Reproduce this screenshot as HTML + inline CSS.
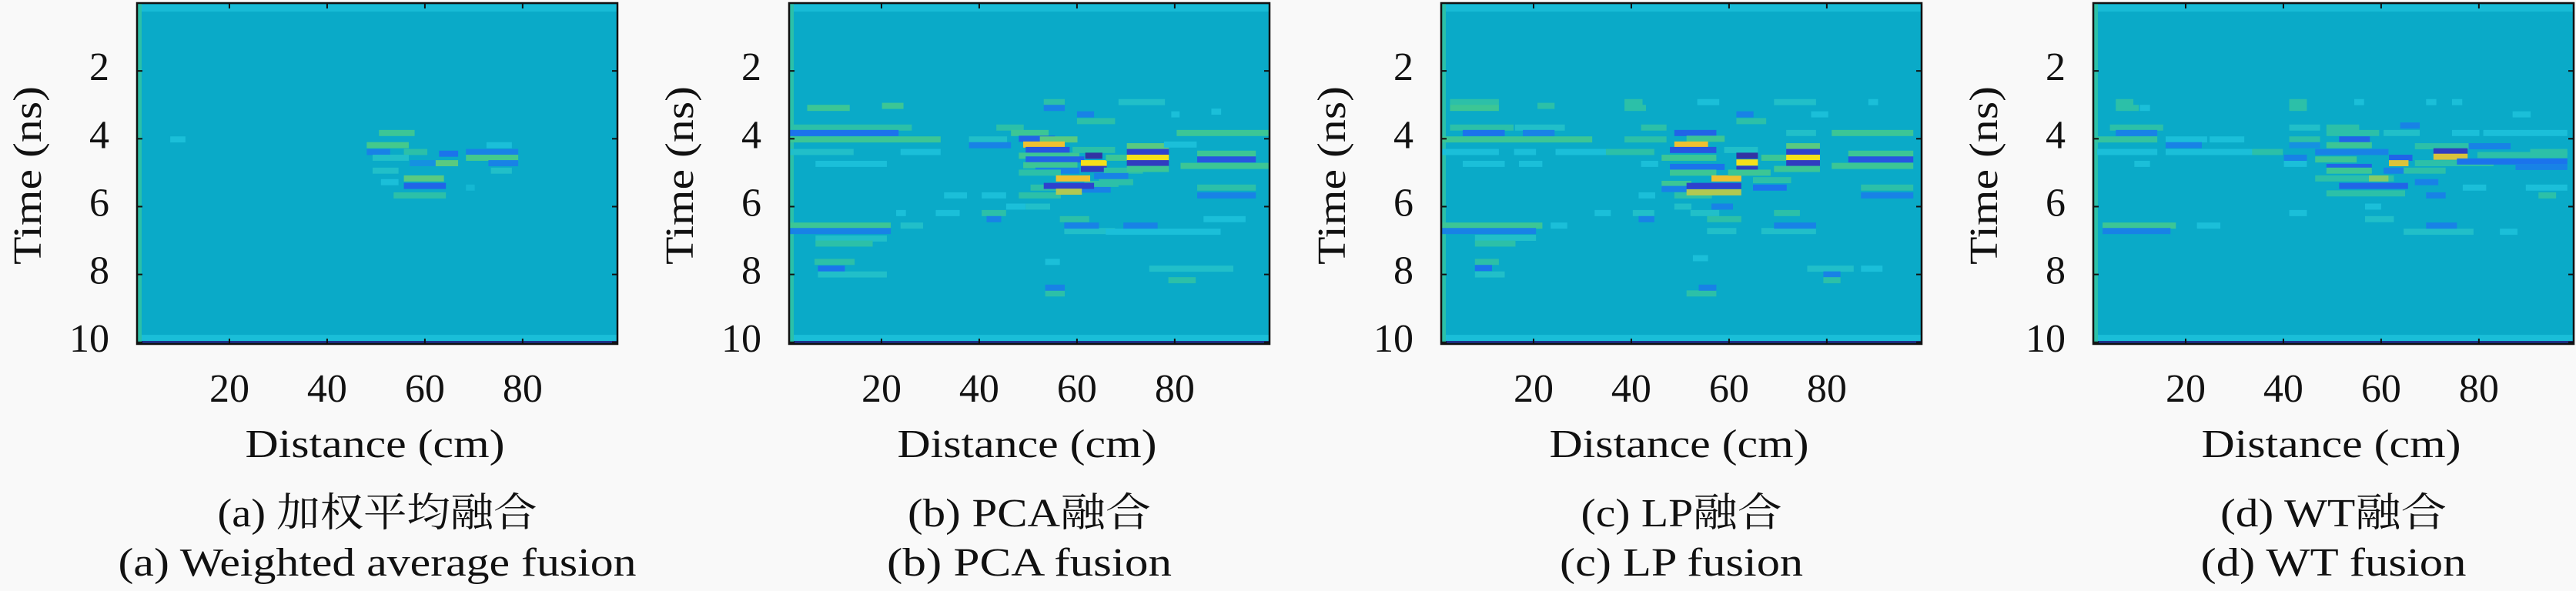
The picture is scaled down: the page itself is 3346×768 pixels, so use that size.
<!DOCTYPE html>
<html><head><meta charset="utf-8"><style>
html,body{margin:0;padding:0;background:#f9f9f9;}
svg{display:block;}
text{font-family:"Liberation Serif","Noto Serif CJK SC",serif;fill:#111;}
</style></head><body>
<svg id="fig" width="3346" height="768" viewBox="0 0 3346 768" xmlns="http://www.w3.org/2000/svg" font-family="'Liberation Serif','Noto Serif CJK SC',serif"></svg>
<script>
// ---- data ----
const xTicks = [20, 40, 60, 80];
const yTicks = [2, 4, 6, 8, 10];
const xDomain = [1.1, 99.4];
const yDomain = [0, 10.05];
const rowHeight = 0.18;
const captionsCn = ["(a) 加权平均融合", "(b) PCA融合", "(c) LP融合", "(d) WT融合"];
const captionsEn = ["(a) Weighted average fusion", "(b) PCA fusion", "(c) LP fusion", "(d) WT fusion"];
// segments: [distanceStart, distanceEnd, time, amplitude(-1..1)]
const segA = [[8.4,10.5,4.02,0.15],[51.1,57.4,3.83,0.4],[48.6,56.2,4.19,0.45],[56.2,60,4.39,0.3],[48.6,52.4,4.39,-0.3],[49.8,56.2,4.56,0.2],[63.4,66.3,4.44,-0.4],[62.5,66.3,4.72,0.5],[57.4,61.7,4.72,-0.2],[49.8,54.1,4.94,0.2],[56.2,63.4,5.17,0.5],[56.2,63.8,5.39,-0.5],[54.1,63.8,5.67,0.3],[51.5,54.1,5.28,0.15],[68.9,78.6,4.39,-0.3],[68.9,78.6,4.56,0.45],[73.1,77.3,4.19,0.15],[73.5,78.6,4.72,-0.3],[74,77.3,4.94,0.2],[68.9,69.7,5.44,0.1]];
const segB = [[5.3,13,3.09,0.4],[20.6,24,3.03,0.4],[1.5,25.7,3.67,0.3],[1.5,23,3.83,-0.4],[1.5,31.6,4.02,0.4],[1.5,13.8,4.39,0.2],[7,20.6,4.74,0.15],[24.4,31.6,4.39,0.15],[38.4,45.2,4.02,0.2],[38.4,46,4.19,-0.3],[44,48.6,3.67,0.3],
[47,53.7,3.83,0.4],[48.6,55,4.0,-0.5],[52.9,59.6,4.02,0.5],[49.5,57,4.17,0.85],[50,58,4.33,-0.6],[48.6,60,4.5,0.4],[50,61,4.61,-0.5],[49.5,59.6,4.78,0.4],[52,60,4.94,-0.3],[48.6,56.2,5.0,0.3],
[51,56.2,5.44,0.3],[48.6,56.2,5.67,0.3],[60,66.4,5.5,-0.3],[62,68,5.33,0.3],[56.2,62.2,5.17,0.85],[53.7,63,5.39,-0.75],[56.2,60.5,5.56,0.7],
[59.6,67.3,4.33,0.3],[62.2,64.7,4.5,-0.9],[61.3,65.6,4.72,0.95],[61.3,65.6,4.89,-0.8],[66,73,4.94,0.3],[64,70,5.1,-0.3],[65,71,5.28,0.3],
[66.4,71,4.56,0.4],[70.7,78.3,4.22,0.5],[70.7,78.3,4.39,-0.75],[70.7,78.3,4.56,0.95],[70.7,78.3,4.72,-0.8],[70.7,78.3,4.89,0.4],
[80.9,98.7,3.83,0.4],[85.1,96.1,4.44,0.4],[85.1,96.1,4.61,-0.6],[81.7,98.7,4.8,0.4],[85.1,96.1,5.44,0.3],[85.1,96.1,5.67,-0.3],[78.3,84,4.17,0.15],
[69,77.5,2.92,0.2],[53.7,57,2.92,0.3],[53.7,57,3.09,-0.3],[60.5,67.3,3.48,0.3],[60.5,63,3.28,-0.3],[79.8,80.5,3.28,0.15],[88,89,3.2,0.15],
[57.9,67.3,6.72,0.2],[66.4,88.9,6.74,0.15],[70,76,6.56,-0.3],[57.9,64,6.56,-0.3],[57,62,6.37,0.3],[1.5,21.4,6.56,0.4],[1.5,21.4,6.72,-0.3],[7,20.6,6.94,0.2],[7,17.7,7.09,0.3],[6.8,14,7.63,0.3],[7.5,12,7.83,-0.4],[7.5,20.6,8.0,0.2],[75.3,91.5,7.83,0.2],[79.2,83.8,8.17,0.3],[54,57,8.56,0.3],[54,57,8.39,-0.3],[54,56,7.63,0.15],
[33.3,37,5.67,0.15],[41,45,5.67,0.15],[31.6,35.5,6.19,0.15],[41,45,6.19,0.3],[42,44,6.37,-0.3],[24.4,28,6.56,0.2],[23.5,24.5,6.19,0.15],[86.4,94,6.37,0.15],[46,49,6.0,0.15],[50,54,6.0,0.2]];
const segC = [[3.4,12.4,2.92,0.3],[3.4,12.4,3.09,0.4],[21.3,23.8,3.03,0.3],
[3.4,15.4,3.67,0.3],[6,13.6,3.83,-0.4],[0.9,31.5,4.02,0.4],[16.7,25.9,3.67,0.2],[18.3,23.8,3.83,-0.3],
[0.9,12.4,4.39,0.15],[6,13.6,4.74,0.15],[16.5,20,4.39,0.15],[17.5,21.3,4.74,0.15],[25,35.3,4.39,0.15],[35.3,44.2,4.39,0.3],
[39.1,41.8,2.92,0.3],[39.1,42.5,3.09,0.3],[39.1,46.7,4.02,0.3],[42.5,46.7,3.67,0.3],[42.5,45,4.74,0.15],
[49.3,56.9,3.83,-0.5],[51.8,58.6,4.0,0.4],[49.3,55.2,4.17,0.85],[48.4,56.9,4.33,-0.6],[46.7,56.9,4.56,0.4],[48.4,58.6,4.83,-0.4],[48.4,56.9,5.0,0.4],[46.7,51.8,5.33,0.4],[46.7,56.9,5.48,-0.3],[49.3,56,5.67,0.3],[56.9,62,5.17,0.85],[51.8,62,5.39,-0.75],[51.8,62,5.58,0.7],
[59.5,65.4,4.33,0.2],[62,65.4,4.5,-0.9],[62,65.4,4.7,0.95],[62,65.4,4.89,-0.8],[60.3,68,5.0,0.4],[65.4,72.2,5.22,0.3],[65.4,71.3,5.44,-0.4],
[67.1,72.2,4.56,0.4],[72.2,78.1,4.22,0.5],[72.2,78.1,4.39,-0.75],[72.2,78.1,4.56,0.95],[72.2,78.1,4.72,-0.8],[69.7,78.1,4.89,0.4],
[81.5,97.2,3.83,0.4],[84.9,97.2,4.44,0.4],[84.9,97.2,4.61,-0.6],[81.5,97.2,4.8,0.4],[87.5,97.2,5.44,0.3],[87.5,97.2,5.67,-0.3],
[54,57.5,2.92,0.15],[69.7,77.3,2.92,0.2],[62,64.5,3.28,-0.3],[62,67.1,3.48,0.3],[77.3,79.8,3.28,0.15],[72.2,77.3,3.83,0.2],[89,90,2.92,0.15],
[0.9,21.3,6.56,0.4],[0.9,20,6.72,-0.3],[8.5,20,6.92,0.2],[8.5,15.8,7.09,0.3],[24,26.4,6.56,0.15],
[33,35.3,6.19,0.15],[40.8,44.2,6.19,0.2],[42,44.2,6.37,-0.3],[42,44.4,5.67,0.15],[49.3,51.8,6.0,0.2],[52.6,57.5,6.19,0.2],[56.9,60.3,6.0,-0.3],[56,62,6.37,0.3],[56,61,6.72,0.2],[67.1,77.3,6.72,0.2],[69.7,77.3,6.56,-0.3],[69.7,74,6.19,0.3],
[8.5,12.4,7.63,0.3],[8.5,11,7.81,-0.4],[8.5,13.6,8.0,0.2],[53.1,55.2,7.52,0.15],[51.8,56.9,8.56,0.3],[54.3,56.9,8.39,-0.3],[76.5,85,7.83,0.2],[87.5,90.9,7.83,0.15],[79.8,82.3,8.0,-0.3],[79.8,82.3,8.17,0.3]];
const segD = [[6.2,8.8,2.92,0.3],[6.2,9.9,3.09,0.3],[11.1,12.2,3.09,0.15],
[5,14.9,3.67,0.3],[6.2,13.7,3.83,-0.3],[0.5,13.7,4.02,0.35],[2.4,13.7,4.39,0.15],[10,12.2,4.74,0.15],[16.4,23.9,4.02,0.15],[25.4,31.5,4.02,0.15],[16.4,22.8,4.19,-0.3],[16.4,34.1,4.39,0.15],[34.1,39.4,4.39,0.3],
[41.7,44.3,2.92,0.3],[41.7,44.3,3.09,0.3],[41.7,47,3.67,0.2],[41.7,47,4.02,0.3],[41.7,47,4.19,-0.2],[40.6,44.3,4.56,-0.3],[40.6,44.3,4.74,0.15],
[49.3,55,3.67,0.3],[49.3,59.1,3.83,0.3],[51.9,57.2,4.02,-0.5],[49.3,57.6,4.19,0.4],[47,61,4.39,-0.3],[47,54.5,4.61,0.4],[49.3,57.6,4.83,-0.5],[49.3,57.6,4.94,0.4],[47,62.1,5.17,0.3],[58,61,5.17,0.6],[51.9,65,5.39,-0.5],[49.3,64.4,5.61,0.3],
[62.1,65.9,4.56,-0.5],[62.1,65.1,4.72,0.8],[61,67.4,4.94,-0.3],[65.1,72.7,4.94,0.3],[67.4,71.2,5.28,-0.3],[69.7,72.7,5.67,-0.3],
[67.4,80.2,4.22,0.3],[71.2,77.2,4.37,-0.8],[71.2,77.2,4.53,0.8],[67.4,82.5,4.72,0.3],[80.2,97.6,4.48,0.3],[76,97.6,4.67,-0.4],[75,79.6,3.83,0.15],[81.4,97.6,3.83,0.15],[78.4,86,4.22,-0.3],[88,97.6,4.83,-0.3],[91,97.6,4.39,0.3],
[61,67.4,3.83,0.2],[64.4,67.4,3.61,-0.3],[55,56,2.92,0.15],[69.7,70.8,2.92,0.15],[75,76.1,2.92,0.15],[87.4,90.1,3.28,0.15],
[77.2,81,5.44,0.15],[90.1,97.6,5.44,0.15],[92.7,95.3,5.67,0.3],
[41.7,44.3,6.19,0.15],[57.2,59.5,6.0,0.15],[57.2,62.1,6.37,0.2],
[3.5,17.5,6.56,0.4],[3.5,16.4,6.72,-0.3],[22.8,26.6,6.56,0.15],[65.1,78.4,6.74,0.2],[69.7,75,6.56,-0.3],[84.8,87.4,6.74,0.15]];
const panelSegments = [segA, segB, segC, segD];

// ---- layout ----
const NS = "http://www.w3.org/2000/svg";
const svg = document.getElementById("fig");
const FONT = "'Liberation Serif','Noto Serif CJK SC',serif";
const PX0 = 178, PSTEP = 847, PW = 624, PY0 = 4, PH = 443;
const stops = [[-1,[53,42,135]],[-0.7,[45,70,220]],[-0.4,[27,115,236]],[-0.15,[20,153,222]],[0,[10,170,200]],[0.15,[27,191,217]],[0.3,[44,192,168]],[0.45,[68,201,140]],[0.65,[156,203,92]],[0.85,[240,192,48]],[1,[249,240,15]]];
function cmap(v){
  v = Math.max(-1, Math.min(1, v));
  for (let i=1;i<stops.length;i++){
    if (v <= stops[i][0]){
      const a = stops[i-1], b = stops[i], f = (v-a[0])/(b[0]-a[0]);
      const c = a[1].map((x,k)=>Math.round(x+(b[1][k]-x)*f));
      return "rgb("+c.join(",")+")";
    }
  }
  return "rgb(249,240,15)";
}
function mk(tag, attrs, parent){
  const e = document.createElementNS(NS, tag);
  for (const k in attrs) e.setAttribute(k, attrs[k]);
  (parent||svg).appendChild(e);
  return e;
}
function txt(str, attrs, parent){ const t = mk("text", attrs, parent); t.setAttribute("font-family", FONT); t.textContent = str; return t; }

for (let p=0;p<4;p++){
  const X0 = PX0 + PSTEP*p;
  const xs = d => X0 + (d - xDomain[0])/(xDomain[1]-xDomain[0])*PW;
  const ys = t => PY0 + (t - yDomain[0])/(yDomain[1]-yDomain[0])*PH;
  const g = mk("g", {});
  
  
  const clipId = "clip"+p;
  const cp = mk("clipPath", {id:clipId}, g);
  mk("rect", {x:X0, y:PY0, width:PW, height:PH}, cp);
  const plot = mk("g", {"clip-path":"url(#"+clipId+")"}, g);
  
  
  mk("rect", {x:X0, y:PY0, width:PW, height:PH, fill:cmap(0)}, plot);
  mk("rect", {x:X0, y:PY0+2, width:PW, height:9, fill:cmap(0.12)}, plot);
  mk("rect", {x:X0, y:ys(9.78), width:PW, height:ys(9.98)-ys(9.78), fill:cmap(0.14)}, plot);
  mk("rect", {x:X0, y:PY0+PH-4, width:PW, height:4, fill:"rgb(30,50,140)"}, plot);
  mk("rect", {x:X0, y:PY0, width:6, height:PH, fill:cmap(0.3)}, plot);
  panelSegments[p].forEach(s=>{
    const r = mk("rect", {x:xs(s[0]-0.5), y:ys(s[2]-rowHeight/2), width:xs(s[1]+0.5)-xs(s[0]-0.5), height:ys(rowHeight)-ys(0), fill:cmap(s[3])}, plot);
    
    
  });
  const frame = mk("rect", {x:X0, y:PY0, width:PW, height:PH, fill:"none", stroke:"#111", "stroke-width":2.5}, g);
  
  
  xTicks.forEach(v=>{
    const x = xs(v);
    mk("line", {x1:x, x2:x, y1:PY0, y2:PY0+7, stroke:"#111", "stroke-width":2}, g);
    mk("line", {x1:x, x2:x, y1:PY0+PH, y2:PY0+PH-7, stroke:"#111", "stroke-width":2}, g);
    const t = txt(String(v), {x:x, y:522, "font-size":52, "text-anchor":"middle"}, g);
    
    
  });
  yTicks.forEach(v=>{
    const y = ys(v);
    mk("line", {x1:X0, x2:X0+7, y1:y, y2:y, stroke:"#111", "stroke-width":2}, g);
    mk("line", {x1:X0+PW, x2:X0+PW-7, y1:y, y2:y, stroke:"#111", "stroke-width":2}, g);
    const t = txt(String(v), {x:X0-36, y:Math.min(y+12, 461), "font-size":52, "text-anchor":"end"}, g);
    
    
  });
  const yl = txt("Time (ns)", {transform:"translate("+(X0-125)+",228) rotate(-90)", "font-size":52, "text-anchor":"middle", textLength:232, lengthAdjust:"spacingAndGlyphs"}, g);
  
  
  const cx = X0 + PW/2;
  const xl = txt("Distance (cm)", {x:cx-3, y:594, "font-size":52, "text-anchor":"middle", textLength:337, lengthAdjust:"spacingAndGlyphs"}, g);
  
  
  const cnW = [415, 316, 261, 294][p], enW = [673, 370, 316, 345][p];
  const c1 = txt(captionsCn[p], {x:cx, y:684, "font-size":52, "text-anchor":"middle", textLength:cnW, lengthAdjust:"spacingAndGlyphs"}, g);
  
  
  const c2 = txt(captionsEn[p], {x:cx, y:748, "font-size":52, "text-anchor":"middle", textLength:enW, lengthAdjust:"spacingAndGlyphs"}, g);
  
  
}
</script>
</body></html>
